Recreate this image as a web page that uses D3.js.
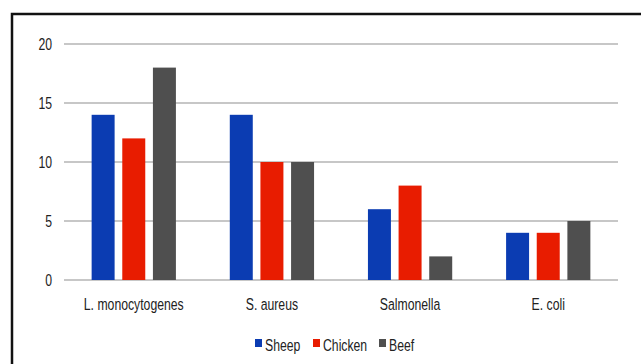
<!DOCTYPE html>
<html>
<head>
<meta charset="utf-8">
<script src="https://cdn.jsdelivr.net/npm/d3@7"></script>
<style>
  body { margin: 0; background: #fff; }
  text { font-family: "Liberation Sans", Arial, sans-serif; fill: #222; }
</style>
</head>
<body>
<div id="chart"></div>
<script>
const categories = ['L. monocytogenes', 'S. aureus', 'Salmonella', 'E. coli'];
const seriesNames = ['Sheep', 'Chicken', 'Beef'];
const sheep = [14, 14, 6, 4];
const chicken = [12, 10, 8, 4];
const beef = [18, 10, 2, 5];
const yTicks = [0, 5, 10, 15, 20];
const colors = ['#0b3cb2', '#e81c00', '#4f4f4f'];

const WIDTH = 641, HEIGHT = 364;
const margin = {left: 64, right: 23, top: 44, bottom: 84};
const SX = 0.72; // horizontal squeeze of the text

const svg = d3.select('#chart').append('svg')
    .attr('width', WIDTH)
    .attr('height', HEIGHT);

// frame
svg.append('rect')
    .attr('x', 12).attr('y', 14)
    .attr('width', WIDTH).attr('height', HEIGHT)
    .attr('fill', 'none')
    .attr('stroke', '#111')
    .attr('stroke-width', 2.5);

const x = d3.scaleBand()
    .domain(categories)
    .range([margin.left, WIDTH - margin.right])
    .paddingInner(0.39)
    .paddingOuter(0.2);

const xs = d3.scaleBand()
    .domain(seriesNames)
    .range([0, x.bandwidth()])
    .paddingInner(0.25);

const y = d3.scaleLinear()
    .domain([0, 20])
    .range([HEIGHT - margin.bottom, margin.top]);

// grid
svg.append('g').selectAll('line')
    .data(yTicks)
    .enter().append('line')
    .attr('x1', margin.left)
    .attr('x2', WIDTH - margin.right)
    .attr('y1', d => y(d))
    .attr('y2', d => y(d))
    .attr('stroke', '#b4b4b4')
    .attr('stroke-width', 1.5);

// y labels
svg.append('g').selectAll('text')
    .data(yTicks)
    .enter().append('text')
    .attr('transform', d => `translate(52,${y(d) + 6}) scale(${SX},1)`)
    .attr('text-anchor', 'end')
    .attr('font-size', 17)
    .text(d => d);

const table = categories.map((c, i) => ({
    cat: c,
    vals: [sheep[i], chicken[i], beef[i]]
}));

const groups = svg.append('g').selectAll('g')
    .data(table)
    .enter().append('g')
    .attr('transform', d => `translate(${x(d.cat)},0)`);

groups.selectAll('rect')
    .data(d => d.vals.map((v, j) => ({name: seriesNames[j], v: v, j: j})))
    .enter().append('rect')
    .attr('x', d => xs(d.name))
    .attr('y', d => y(d.v))
    .attr('width', xs.bandwidth())
    .attr('height', d => y(0) - y(d.v))
    .attr('fill', d => colors[d.j]);

// category labels
svg.append('g').selectAll('text')
    .data(categories)
    .enter().append('text')
    .attr('transform', d => `translate(${x(d) + x.bandwidth() / 2},310) scale(${SX},1)`)
    .attr('text-anchor', 'middle')
    .attr('font-size', 17)
    .text(d => d);

// legend
const legendX = [255, 313, 379];
const legend = svg.append('g').selectAll('g')
    .data(seriesNames)
    .enter().append('g')
    .attr('transform', (d, i) => `translate(${legendX[i]},345)`);

legend.append('rect')
    .attr('x', 0).attr('y', -6)
    .attr('width', 7).attr('height', 8)
    .attr('fill', (d, i) => colors[i]);

legend.append('text')
    .attr('transform', `translate(10,6) scale(${SX},1)`)
    .attr('font-size', 17)
    .text(d => d);
</script>
</body>
</html>
